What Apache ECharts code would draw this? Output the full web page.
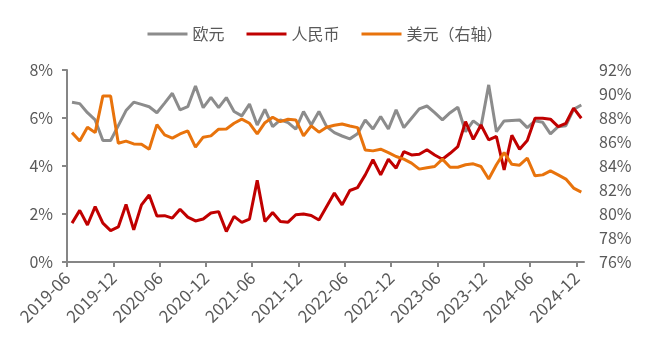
<!DOCTYPE html>
<html>
<head>
<meta charset="utf-8">
<script src="https://cdn.jsdelivr.net/npm/echarts@6/dist/echarts.min.js"></script>
<style>
html,body{margin:0;padding:0;background:#fff}
#chart{width:650px;height:354px}
</style>
</head>
<body>
<div id="chart"></div>
<script>
// 月度数据 2019-06 ~ 2024-12，每6个月一个刻度
var tickLabels = ['2019-06','2019-12','2020-06','2020-12','2021-06','2021-12',
                  '2022-06','2022-12','2023-06','2023-12','2024-06','2024-12'];

// 欧元（左轴，%）
var euro = [6.66,6.60,6.22,5.92,5.06,5.06,5.68,6.31,6.66,6.57,6.47,6.22,
            6.62,7.03,6.34,6.47,7.33,6.43,6.86,6.43,6.85,6.27,6.09,6.58,
            5.71,6.36,5.64,5.92,5.81,5.54,6.27,5.71,6.27,5.64,5.39,5.25,
            5.13,5.34,5.92,5.54,6.06,5.54,6.34,5.60,5.99,6.38,6.50,6.22,
            5.92,6.22,6.45,5.43,5.88,5.64,7.38,5.43,5.88,5.90,5.92,5.60,
            5.88,5.82,5.34,5.64,5.68,6.36,6.54];

// 人民币（左轴，%）
var rmb = [1.62,2.15,1.54,2.31,1.62,1.31,1.46,2.40,1.34,2.38,2.79,1.92,
           1.93,1.83,2.20,1.87,1.71,1.79,2.04,2.10,1.27,1.90,1.65,1.79,
           3.40,1.69,2.06,1.69,1.66,1.97,2.00,1.94,1.75,2.31,2.87,2.38,
           2.98,3.10,3.63,4.26,3.63,4.28,3.91,4.60,4.46,4.49,4.68,4.46,
           4.28,4.53,4.81,5.85,5.11,5.71,5.09,5.23,3.84,5.28,4.70,5.06,
           5.99,5.99,5.95,5.64,5.78,6.41,5.99];

// 美元（右轴，%）
var usd = [86.78,86.09,87.23,86.78,89.84,89.84,85.90,86.07,85.84,85.82,85.40,87.45,
           86.59,86.32,86.67,86.92,85.57,86.40,86.51,87.07,87.09,87.56,87.90,87.56,
           86.67,87.61,88.06,87.70,87.90,87.84,86.51,87.34,86.82,87.23,87.40,87.50,
           87.34,87.20,85.34,85.26,85.40,85.12,84.79,84.57,84.24,83.74,83.86,83.96,
           84.57,83.90,83.90,84.10,84.18,83.96,82.91,84.10,85.12,84.14,84.07,84.65,
           83.18,83.26,83.59,83.26,82.91,82.16,81.82];

var font = 'Noto Sans CJK SC';
var axisColor = '#868686';
var textColor = '#595959';

var tickPos = [];
for (var t = 0; t < tickLabels.length; t++) tickPos.push(t * 6);

// 数据点位于月内（略晚于刻度）
function toPoints(arr){
    var res = [];
    for (var i = 0; i < arr.length; i++) res.push([i + 0.65, arr[i]]);
    return res;
}

var chart = echarts.init(document.getElementById('chart'));
var option = {
    animation: false,
    textStyle: {fontFamily: font},
    legend: {
        top: 21,
        left: 'center',
        icon: 'rect',
        itemWidth: 40,
        itemHeight: 3,
        itemGap: 22,
        textStyle: {fontSize: 16, color: textColor, fontFamily: font},
        data: ['欧元', '人民币', '美元（右轴）']
    },
    grid: {left: 67, right: 66, top: 70, bottom: 92},
    xAxis: {
        type: 'value',
        min: 0,
        max: 67,
        interval: 6,
        splitLine: {show: false},
        axisLine: {lineStyle: {color: axisColor, width: 2}},
        axisTick: {length: 5, customValues: tickPos, lineStyle: {color: axisColor, width: 2}},
        axisLabel: {
            customValues: tickPos,
            rotate: 45,
            margin: 13,
            fontSize: 17,
            color: textColor,
            formatter: function (v){
                return v % 6 === 0 ? (tickLabels[v / 6] || '') : '';
            }
        }
    },
    yAxis: [
        {
            type: 'value',
            min: 0,
            max: 8,
            interval: 2,
            splitLine: {show: false},
            axisLine: {show: true, lineStyle: {color: axisColor, width: 2}},
            axisTick: {show: true, length: 5, lineStyle: {color: axisColor, width: 2}},
            axisLabel: {formatter: '{value}%', fontSize: 16, color: textColor, margin: 14}
        },
        {
            type: 'value',
            min: 76,
            max: 92,
            interval: 2,
            position: 'right',
            splitLine: {show: false},
            axisLine: {show: false},
            axisTick: {show: false},
            axisLabel: {formatter: '{value}%', fontSize: 16, color: textColor, margin: 15}
        }
    ],
    series: [
        {
            name: '欧元',
            type: 'line',
            symbol: 'none',
            color: '#8C8C8C',
            lineStyle: {width: 3, color: '#8C8C8C'},
            data: toPoints(euro)
        },
        {
            name: '人民币',
            type: 'line',
            symbol: 'none',
            color: '#C00000',
            lineStyle: {width: 3, color: '#C00000'},
            data: toPoints(rmb)
        },
        {
            name: '美元（右轴）',
            type: 'line',
            yAxisIndex: 1,
            symbol: 'none',
            color: '#E8730C',
            lineStyle: {width: 3, color: '#E8730C'},
            data: toPoints(usd)
        }
    ]
};
chart.setOption(option);
window.onresize = function(){
    chart.resize();
};
</script>
</body>
</html>
